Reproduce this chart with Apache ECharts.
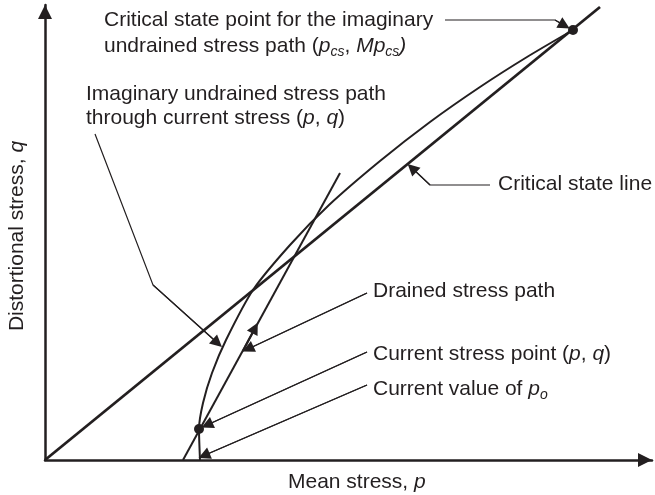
<!DOCTYPE html>
<html>
<head>
<meta charset="utf-8">
<script src="https://cdn.jsdelivr.net/npm/echarts@6/dist/echarts.min.js"></script>
<style>
  html, body { margin: 0; padding: 0; background: #ffffff; }
  #chart { width: 655px; height: 495px; }
</style>
</head>
<body>
<div id="chart"></div>
<script>
// Schematic stress space: mean stress p (horizontal) vs distortional stress q (vertical), arbitrary units
const pMax = 607;
const qMax = 455;

// Critical state line q = M p
const criticalStateLine = [[0, 0], [555, 453]];
// Imaginary undrained stress path through the current stress, ending on the CSL
const undrainedPath = [[155, 0], [154, 31], [158, 57], [167, 87], [181, 120], [208, 170], [245, 215], [284, 255], [335, 299], [385, 338], [435, 373], [482, 403], [528, 430]];
// Drained stress path (straight line)
const drainedPath = [[138, 0], [295, 287]];
// Direction marker on the drained path
const drainedArrow = [[198, 109], [210, 132]];
// Marked points
const currentStressPoint = [154, 31];
const criticalStatePoint = [528, 430];

// Callout leader lines (start at label, end at arrowhead)
const leaderCsPoint = [[400, 440], [510, 440], [519.5, 434.5]];
const leaderUndrained = [[50, 326], [108, 175], [172.5, 117]];
const leaderCsl = [[445, 275], [385, 275], [367, 292]];
const leaderDrained = [[322, 167], [203, 111]];
const leaderCurrentPoint = [[322, 108], [162, 35]];
const leaderPo = [[322, 75], [159, 4.5]];

const leaders = [leaderCsPoint, leaderUndrained, leaderCsl, leaderDrained, leaderCurrentPoint, leaderPo];

const ink = '#231f20';
const font = 'Liberation Sans';
const fs = 21;

const rich = {
  i: { fontStyle: 'italic', fontSize: fs, fontFamily: font, color: ink, lineHeight: 26 },
  sub: { fontStyle: 'italic', fontSize: 14, fontFamily: font, color: ink, lineHeight: 14, verticalAlign: 'bottom' }
};

function label(text, x, y, extra) {
  const el = {
    type: 'text',
    x: x,
    y: y,
    silent: true,
    style: {
      text: text,
      fontSize: fs,
      fontFamily: font,
      fill: ink,
      lineHeight: 26,
      textAlign: 'left',
      textVerticalAlign: 'middle',
      rich: rich
    }
  };
  if (extra) {
    if (extra.rotation != null) el.rotation = extra.rotation;
    if (extra.textAlign) el.style.textAlign = extra.textAlign;
  }
  return el;
}

const chart = echarts.init(document.getElementById('chart'), null, { renderer: 'canvas' });

const axisCommon = {
  type: 'value',
  min: 0,
  axisTick: { show: false },
  axisLabel: { show: false },
  splitLine: { show: false },
  axisLine: {
    show: true,
    onZero: false,
    symbol: ['none', 'triangle'],
    symbolSize: [14, 14],
    symbolOffset: [0, -7],
    lineStyle: { color: ink, width: 2.5 }
  }
};

chart.setOption({
  animation: false,
  backgroundColor: '#ffffff',
  grid: { left: 45, right: 3, top: 5, bottom: 35 },
  xAxis: Object.assign({}, axisCommon, { max: pMax }),
  yAxis: Object.assign({}, axisCommon, { max: qMax }),
  series: [
    {
      type: 'line',
      data: criticalStateLine,
      symbol: 'none',
      clip: false,
      lineStyle: { color: ink, width: 2.8 }
    },
    {
      type: 'line',
      data: undrainedPath,
      symbol: 'none',
      smooth: 0.25,
      clip: false,
      lineStyle: { color: ink, width: 2 }
    },
    {
      type: 'line',
      data: drainedPath,
      symbol: 'none',
      clip: false,
      lineStyle: { color: ink, width: 2 }
    },
    {
      // direction marker on the drained path
      type: 'lines',
      coordinateSystem: 'cartesian2d',
      symbol: ['none', 'triangle'],
      symbolSize: 12,
      lineStyle: { color: ink, width: 2, opacity: 1 },
      data: [{ coords: drainedArrow }]
    },
    {
      // leader bodies (bent ones drawn as polylines)
      type: 'lines',
      coordinateSystem: 'cartesian2d',
      polyline: true,
      symbol: 'none',
      lineStyle: { color: ink, width: 1.2, opacity: 1 },
      data: leaders.map(function (c) { return { coords: c }; })
    },
    {
      // final leg of each leader with its arrowhead
      type: 'lines',
      coordinateSystem: 'cartesian2d',
      symbol: ['none', 'triangle'],
      symbolSize: 12,
      lineStyle: { color: ink, width: 1.2, opacity: 1 },
      data: leaders.map(function (c) { return { coords: c.slice(-2) }; })
    },
    {
      type: 'scatter',
      data: [currentStressPoint, criticalStatePoint],
      symbol: 'circle',
      symbolSize: 10,
      itemStyle: { color: ink, opacity: 1 }
    }
  ],
  graphic: [
    label('Critical state point for the imaginary', 104, 20),
    label('undrained stress path ({i|p}{sub|cs}, {i|Mp}{sub|cs}{i|)}', 104, 46.5),
    label('Imaginary undrained stress path', 86, 94.5),
    label('through current stress ({i|p}, {i|q})', 86, 118),
    label('Critical state line', 498, 184.5),
    label('Drained stress path', 373, 291),
    label('Current stress point ({i|p}, {i|q})', 373, 354),
    label('Current value of {i|p}{sub|o}', 373, 389.5),
    label('Mean stress, {i|p}', 288, 482),
    label('Distortional stress, {i|q}', 17, 236, { rotation: Math.PI / 2, textAlign: 'center' })
  ]
});
</script>
</body>
</html>
